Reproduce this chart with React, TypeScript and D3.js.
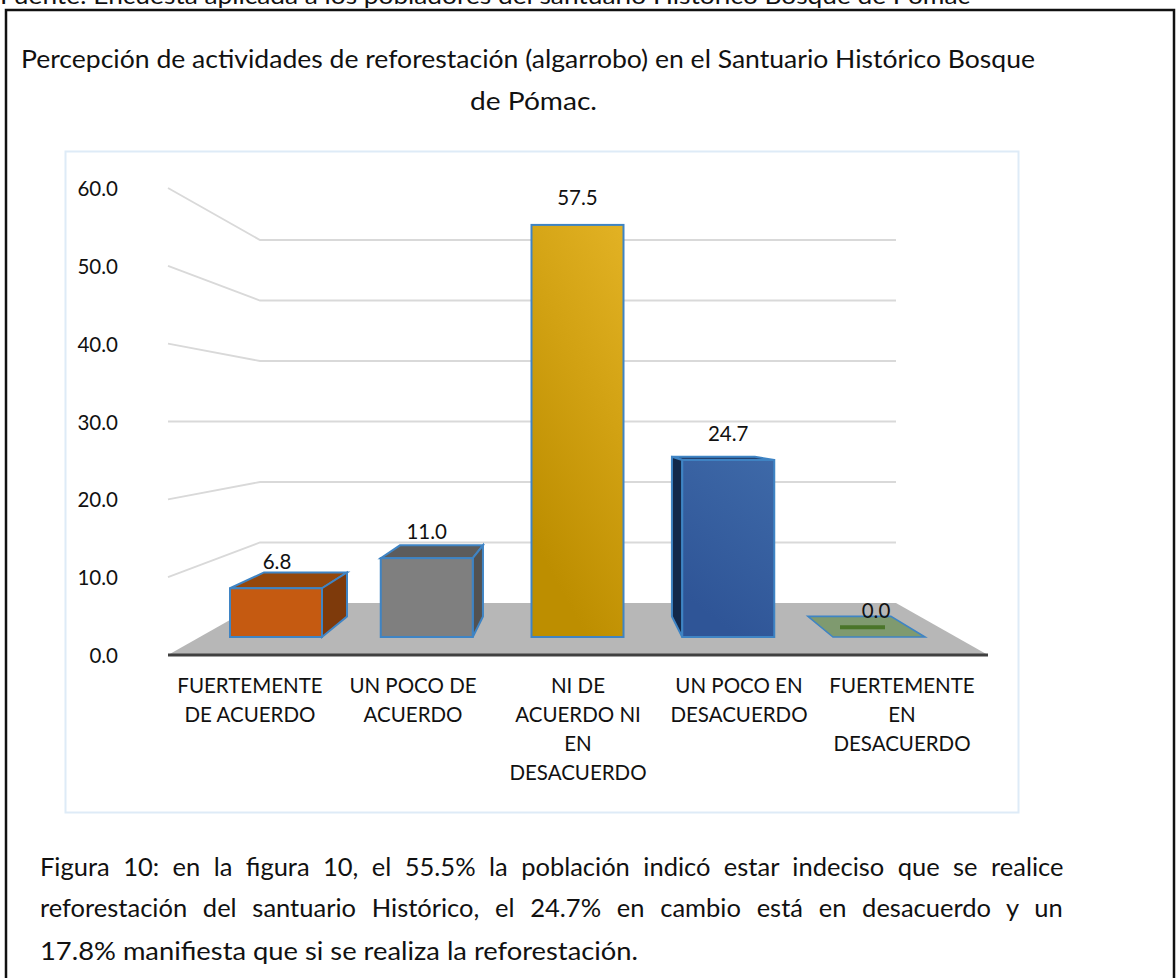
import React from "react";
import * as d3 from "d3";

const categories = ["FUERTEMENTE DE ACUERDO", "UN POCO DE ACUERDO", "NI DE ACUERDO NI EN DESACUERDO", "UN POCO EN DESACUERDO", "FUERTEMENTE EN DESACUERDO"];
const categoryLines = [
  ["FUERTEMENTE", "DE ACUERDO"],
  ["UN POCO DE", "ACUERDO"],
  ["NI DE", "ACUERDO NI", "EN", "DESACUERDO"],
  ["UN POCO EN", "DESACUERDO"],
  ["FUERTEMENTE", "EN", "DESACUERDO"],
];
const values = [6.8, 11.0, 57.5, 24.7, 0.0];
const ticks = [0, 10, 20, 30, 40, 50, 60];
const frontColors = ["#c55a11", "#7f7f7f", "url(#gold)", "url(#blue)", "#7f9a6f"];
const topColors = ["#94470c", "#5c5c5c", "#bf8f00", "#22406f", "#7f9a6f"];
const sideColors = ["#7e3a0b", "#525252", "#8f6b00", "#12284a", "#5f7a4f"];
const titleLines = ["Percepción de actividades de reforestación (algarrobo) en el Santuario Histórico Bosque", "de Pómac."];
const sourceLine = "Fuente: Encuesta aplicada a los pobladores del santuario Histórico Bosque de Pómac";
const bodyLines = [
  "Figura 10: en la figura 10, el 55.5% la población indicó estar indeciso que se realice",
  "reforestación del santuario Histórico, el 24.7% en cambio está en desacuerdo y un",
  "17.8% manifiesta que si se realiza la reforestación.",
];

const FONT = "Lato, 'Open Sans', sans-serif";
const barWidth = 92;
const depth = 0.098;
const vanish = { x: 577, y: 427 };

const xBars = d3.scalePoint<string>().domain(categories).range([276, 879]);
const xLabels = d3.scalePoint<string>().domain(categories).range([250, 902]);
const yFront = d3.scaleLinear().domain([0, 60]).range([637, 207]);
const yBack = d3.scaleLinear().domain([0, 60]).range([603, 240]);
const yLeft = d3.scaleLinear().domain([0, 60]).range([655, 188]);

const back = (x: number, y: number): [number, number] => [x + (vanish.x - x) * depth, y + (vanish.y - y) * depth];
const poly = (pts: [number, number][]) => d3.line()(pts) + "Z";

function measure(text: string, size: number) {
  const c = document.createElement("canvas").getContext("2d")!;
  c.font = `${size}px Lato`;
  return c.measureText(text).width;
}

function Justified({ text, x, y, width, size }: { text: string; x: number; y: number; width: number; size: number }) {
  const gaps = text.split(" ").length - 1;
  const ws = (width - measure(text, size)) / gaps;
  return (
    <text x={x} y={y} fontSize={size} wordSpacing={ws} fill="#111">
      {text}
    </text>
  );
}

export default function App() {
  const bars = categories.map((c, i) => {
    const xc = xBars(c)!;
    const l = xc - barWidth / 2;
    const r = xc + barWidth / 2;
    const t = yFront(values[i]);
    const b = yFront(0);
    return { c, i, xc, l, r, t, b };
  });
  return (
    <svg width={1176} height={978} style={{ position: "absolute", left: 0, top: 0, background: "#fff" }} fontFamily={FONT}>
      <defs>
        <linearGradient id="gold" x1="1" y1="0" x2="0.6" y2="1">
          <stop offset="0" stopColor="#e2b224" />
          <stop offset="0.45" stopColor="#d2a213" />
          <stop offset="1" stopColor="#bd8e00" />
        </linearGradient>
        <linearGradient id="blue" x1="1" y1="0" x2="0.6" y2="1">
          <stop offset="0" stopColor="#3e69a8" />
          <stop offset="1" stopColor="#2f5597" />
        </linearGradient>
      </defs>

      <text x={0} y={4} fontSize={24} textLength={970} lengthAdjust="spacingAndGlyphs" fill="#111">{sourceLine}</text>
      <path d="M6,978V10H1174V978" fill="none" stroke="#111" strokeWidth={2.5} />

      <text x={21} y={68} fontSize={25.5} textLength={1014} lengthAdjust="spacingAndGlyphs" fill="#111">{titleLines[0]}</text>
      <text x={470} y={110} fontSize={25.5} textLength={127} lengthAdjust="spacingAndGlyphs" fill="#111">{titleLines[1]}</text>

      <rect x={65.5} y={151.5} width={953} height={661} fill="#fff" stroke="#deebf7" strokeWidth={2} />

      <path d={poly([[168, yLeft(0)], [260, yBack(0)], [896, yBack(0)], [988, yLeft(0)]])} fill="#b7b7b7" />
      {ticks.slice(1).map((t) => (
        <path key={t} d={`M168,${yLeft(t)}L260,${yBack(t)}H896`} fill="none" stroke="#d9d9d9" strokeWidth={1.8} />
      ))}
      <line x1={168} x2={988} y1={yLeft(0)} y2={yLeft(0)} stroke="#404040" strokeWidth={3} />

      {ticks.map((t) => (
        <text key={t} x={118} y={yLeft(t) + 8} fontSize={20.5} textAnchor="end" fill="#111">{t.toFixed(1)}</text>
      ))}

      {bars.map(({ c, i, l, r, t, b }) => {
        const stroke = "#3f84c4";
        const [blx, bty] = back(l, t);
        const [brx] = back(r, t);
        const [, bby] = back(l, b);
        if (values[i] === 0) {
          return (
            <g key={c}>
              <path d={poly([[blx, bty], [brx, bty], [r, b], [l, b]])} fill={frontColors[i]} stroke={stroke} strokeWidth={1.6} />
              <line x1={l + 7} x2={l + 52} y1={(b + bty) / 2 + 0.5} y2={(b + bty) / 2 + 0.5} stroke="#4a7529" strokeWidth={4} />
            </g>
          );
        }
        return (
          <g key={c}>
            {bty < t && <path d={poly([[blx, bty], [brx, bty], [r, t], [l, t]])} fill={topColors[i]} stroke={stroke} strokeWidth={2} />}
            {brx > r && <path d={poly([[r, t], [brx, bty], [brx, bby], [r, b]])} fill={sideColors[i]} stroke={stroke} strokeWidth={2} />}
            {blx < l && <path d={poly([[l, t], [blx, bty], [blx, bby], [l, b]])} fill={sideColors[i]} stroke={stroke} strokeWidth={2} />}
            <rect x={l} y={t} width={r - l} height={b - t} fill={frontColors[i]} stroke={stroke} strokeWidth={2} />
          </g>
        );
      })}

      {bars.map(({ c, i, xc }) => {
        const labelDx = [1, 0, 0, 0, -3];
        const labelY = [569, 539, 205, 441, 618];
        return (
          <text key={c} x={xc + labelDx[i]} y={labelY[i]} fontSize={20.5} textAnchor="middle" fill="#111">{values[i].toFixed(1)}</text>
        );
      })}

      {categories.map((c, i) => (
        <text key={c} fontSize={20.5} textAnchor="middle" fill="#111">
          {categoryLines[i].map((ln, j) => (
            <tspan key={j} x={xLabels(c)! + (i === 2 ? 2 : 0)} y={693 + j * 29}>{ln}</tspan>
          ))}
        </text>
      ))}

      <Justified text={bodyLines[0]} x={40} y={876} width={1024} size={25.5} />
      <Justified text={bodyLines[1]} x={40} y={917} width={1024} size={25.5} />
      <text x={40} y={960} fontSize={25.5} textLength={598} lengthAdjust="spacingAndGlyphs" fill="#111">{bodyLines[2]}</text>
    </svg>
  );
}
